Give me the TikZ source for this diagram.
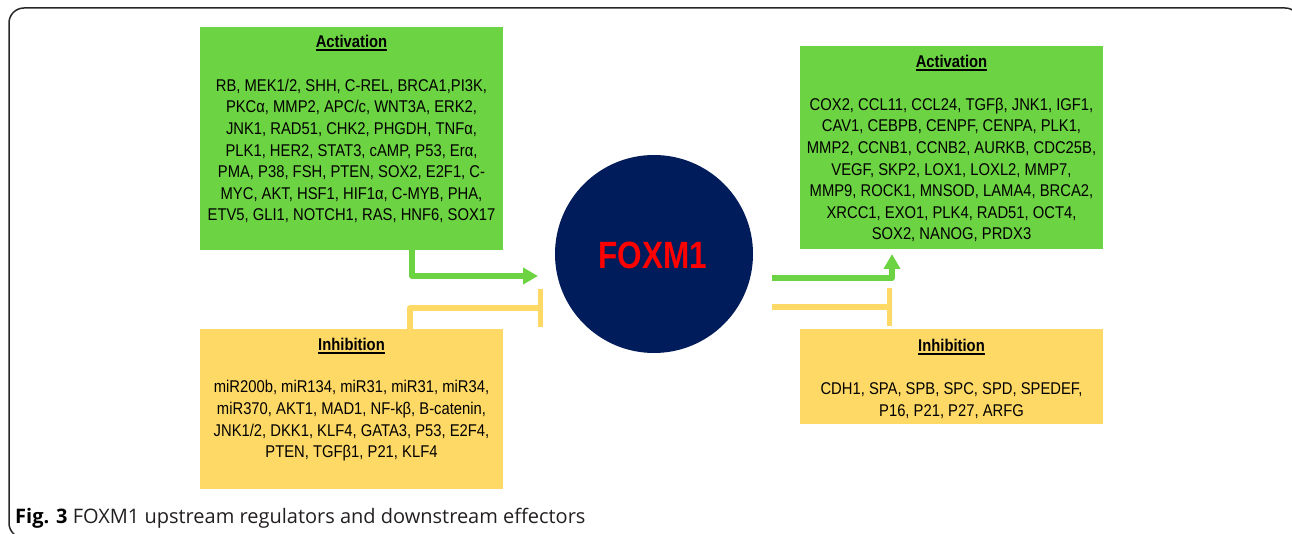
\documentclass[tikz,border=0pt]{standalone}
\usepackage{fontspec}
\setmainfont{Liberation Sans}
\newfontfamily\boxfont[FakeStretch=0.87]{Liberation Sans}
\newfontfamily\foxfont[FakeStretch=0.83]{Liberation Sans}
\newfontfamily\capfont{Open Sans}
\usetikzlibrary{arrows.meta}
\definecolor{boxgreen}{RGB}{108,211,66}
\definecolor{boxyellow}{RGB}{255,217,102}
\definecolor{foxnavy}{RGB}{0,28,90}
\definecolor{framegray}{RGB}{40,40,40}
\definecolor{capgray}{RGB}{35,31,32}
\newcommand\ttlul[1]{\setbox0\hbox{#1}\rlap{\rule[-3pt]{\wd0}{1.6pt}}\box0}
\tikzset{
  gbox/.style={fill=boxgreen, draw=none, minimum width=303pt, inner sep=0pt},
  ybox/.style={fill=boxyellow, draw=none, minimum width=303pt, inner sep=0pt},
  boxtitle/.style={inner sep=0pt, font=\boxfont\fontsize{17}{20}\selectfont\bfseries},
  boxbody/.style={inner sep=0pt, align=center, font=\boxfont\fontsize{17}{21.6}\selectfont},
  gline/.style={draw=boxgreen, line width=5.5pt, line join=round},
  yline/.style={draw=boxyellow, line width=5.5pt, line join=round},
  gtip/.style={-{Triangle[length=15pt,width=16pt]}},
  ytip/.style={-{Bar[width=38pt]}},
  frame/.style={draw=framegray, line width=1.5pt, rounded corners=15pt}
}
\begin{document}
\begin{tikzpicture}[x=1pt,y=-1pt]
\useasboundingbox (0,0) rectangle (1292,534);
\begin{scope}
  \clip (0,0) rectangle (1292,534);
  \draw[frame] (9,8) rectangle (1300,538);
\end{scope}

% boxes
\node[gbox, minimum height=223pt] (tl) at (351.5,138.5) {};
\node[ybox, minimum height=160pt] (bl) at (351.5,409) {};
\node[gbox, minimum height=203pt] (tr) at (951.5,147.5) {};
\node[ybox, minimum height=95pt] (br) at (951.5,376.5) {};

% titles
\node[boxtitle] (tlT) at (351.5,43) {\ttlul{Activation}};
\node[boxtitle] (blT) at (351.5,346) {\ttlul{Inhibition}};
\node[boxtitle] (trT) at (951.5,63) {\ttlul{Activation}};
\node[boxtitle] (brT) at (951.5,347) {\ttlul{Inhibition}};

% bodies
\node[boxbody] (tlB) at (351.5,151) {RB, MEK1/2, SHH, C-REL, BRCA1,PI3K,\\
PKCα, MMP2, APC/c, WNT3A, ERK2,\\
JNK1, RAD51, CHK2, PHGDH, TNFα,\\
PLK1, HER2, STAT3, cAMP, P53, Erα,\\
PMA, P38, FSH, PTEN, SOX2, E2F1, C-\\
MYC, AKT, HSF1, HIF1α, C-MYB, PHA,\\
ETV5, GLI1, NOTCH1, RAS, HNF6, SOX17};
\node[boxbody] (blB) at (351.5,421) {miR200b, miR134, miR31, miR31, miR34,\\
miR370, AKT1, MAD1, NF-kβ, B-catenin,\\
JNK1/2, DKK1, KLF4, GATA3, P53, E2F4,\\
PTEN, TGFβ1, P21, KLF4};
\node[boxbody] (trB) at (951.5,170) {COX2, CCL11, CCL24, TGFβ, JNK1, IGF1,\\
CAV1, CEBPB, CENPF, CENPA, PLK1,\\
MMP2, CCNB1, CCNB2, AURKB, CDC25B,\\
VEGF, SKP2, LOX1, LOXL2, MMP7,\\
MMP9, ROCK1, MNSOD, LAMA4, BRCA2,\\
XRCC1, EXO1, PLK4, RAD51, OCT4,\\
SOX2, NANOG, PRDX3};
\node[boxbody] (brB) at (951.5,400.5) {CDH1, SPA, SPB, SPC, SPD, SPEDEF,\\
P16, P21, P27, ARFG};

% FOXM1
\node[circle, fill=foxnavy, minimum size=198pt, inner sep=0pt] (fox) at (654,254) {};
\node[text=red, inner sep=0pt, font=\foxfont\fontsize{38}{40}\selectfont\bfseries] (foxT) at (653,255) {FOXM1};

% connector points
\coordinate (gLs) at (412,250);
\coordinate (gLe) at (538,276);
\coordinate (yLs) at (410,329);
\coordinate (yLe) at (543,308);
\coordinate (gRs) at (772,278);
\coordinate (gRe) at (892,254);
\coordinate (yRs) at (772,307);
\coordinate (yRe) at (892,307);

\draw[gline, gtip] (gLs) |- (gLe);
\draw[yline, ytip] (yLs) |- (yLe);
\draw[gline, gtip] (gRs) -| (gRe);
\draw[yline, ytip] (yRs) -- (yRe);

% caption
\node[anchor=base west, inner sep=0pt, text=capgray, font=\capfont\fontsize{20}{24}\selectfont] (cap) at (15,523) {\textbf{\color{black}Fig. 3} FOXM1 upstream regulators and downstream effectors};
\end{tikzpicture}
\end{document}
